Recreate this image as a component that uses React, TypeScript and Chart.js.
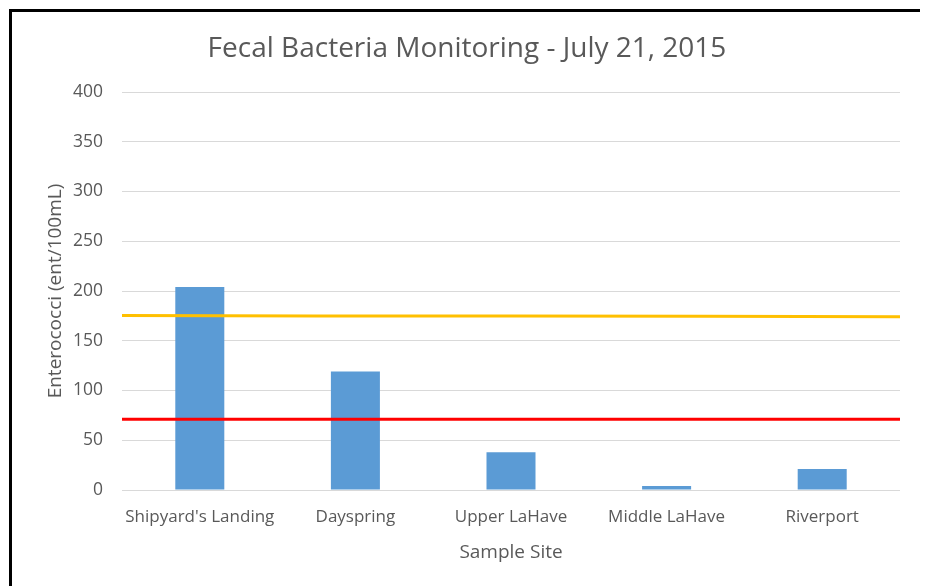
import React, { useEffect, useRef } from "react";
import { Chart, registerables } from "chart.js";

Chart.register(...registerables);

const sites = ["Shipyard's Landing", "Dayspring", "Upper LaHave", "Middle LaHave", "Riverport"];
const enterococci = [204, 119, 38, 4, 21];
const yellowGuideline = [175.5, 175, 175, 174.5, 174];
const redGuideline = [71, 71, 71, 71, 71];
const yTicks = [0, 50, 100, 150, 200, 250, 300, 350, 400];

const TEXT = "#595959";
const FONT = "Open Sans";

export default function App() {
  const ref = useRef<HTMLCanvasElement | null>(null);
  useEffect(() => {
    document.body.style.overflow = "hidden";
    if (!ref.current) return;
    const chart = new Chart(ref.current, {
      type: "bar",
      data: {
        labels: sites,
        datasets: [
          {
            type: "line",
            label: "Single sample limit",
            data: yellowGuideline,
            xAxisID: "x2",
            borderColor: "#ffc000",
            borderWidth: 3,
            pointRadius: 0,
            tension: 0,
            order: 0,
          } as any,
          {
            type: "line",
            label: "Geometric mean limit",
            data: redGuideline,
            xAxisID: "x2",
            borderColor: "#ff0000",
            borderWidth: 3,
            pointRadius: 0,
            tension: 0,
            order: 0,
          } as any,
          {
            type: "bar",
            label: "Enterococci",
            data: enterococci,
            xAxisID: "x",
            backgroundColor: "#5b9bd5",
            categoryPercentage: 1,
            barPercentage: 0.315,
            grouped: false,
            order: 1,
          } as any,
        ],
      },
      options: {
        animation: false,
        responsive: false,
        devicePixelRatio: 1,
        layout: { padding: 0 },
        plugins: {
          legend: { display: false },
          tooltip: { enabled: false },
          title: {
            display: true,
            text: "Fecal Bacteria Monitoring - July 21, 2015",
            color: TEXT,
            font: { family: FONT, size: 28, weight: "normal", lineHeight: 1.2 },
            padding: { top: 20, bottom: 26.4 },
          },
        },
        scales: {
          x: {
            type: "category",
            grid: { display: false, drawTicks: false },
            border: { display: false },
            ticks: { color: TEXT, font: { family: FONT, size: 17 }, padding: 17, maxRotation: 0, autoSkip: false },
            title: {
              display: true,
              text: "Sample Site",
              color: TEXT,
              font: { family: FONT, size: 19, lineHeight: 1.2 },
              padding: { top: 0, bottom: 28 },
            },
            afterFit: (axis: any) => {
              axis.height = 102;
            },
          },
          x2: {
            type: "category",
            labels: sites,
            offset: false,
            display: false,
            grid: { display: false },
          },
          y: {
            type: "linear",
            min: 0,
            max: 400,
            afterBuildTicks: (axis: any) => {
              axis.ticks = yTicks.map((v) => ({ value: v }));
            },
            grid: { color: "#d9d9d9", lineWidth: 1, drawTicks: false },
            border: { display: false },
            ticks: { color: TEXT, font: { family: FONT, size: 17.5 }, padding: 19 },
            title: {
              display: true,
              text: "Enterococci (ent/100mL)",
              color: TEXT,
              font: { family: FONT, size: 19, lineHeight: 1.2 },
              padding: { top: 32, bottom: 0 },
            },
            afterFit: (axis: any) => {
              axis.width = 110;
            },
          },
          yRight: {
            type: "linear",
            position: "right",
            min: 0,
            max: 400,
            grid: { display: false, drawTicks: false },
            border: { display: false },
            ticks: { display: false },
            afterFit: (axis: any) => {
              axis.width = 22;
            },
          },
        },
      },
    });
    return () => chart.destroy();
  }, []);

  return (
    <div
      style={{
        position: "relative",
        left: 1,
        top: 1,
        width: 910,
        height: 580,
        border: "3px solid #000",
        background: "#fff",
      }}
    >
      <canvas ref={ref} width={910} height={580} style={{ display: "block", width: 910, height: 580 }} />
    </div>
  );
}
